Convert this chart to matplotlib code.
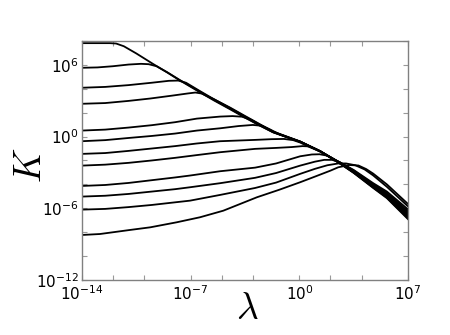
import numpy as np
import matplotlib
matplotlib.use("Agg")
import matplotlib.pyplot as plt
from matplotlib.ticker import FixedLocator, FuncFormatter, NullFormatter

# Curves, stored as log10(lambda) and log10(K),
# from the highest plateau (k0) down to the lowest (k11).
k0_lx = [-14, -12.2, -11.8, -11.3, -10.5, -9.43, -8.5, -7.69, -6.4, -5.5, -4.46, -3.5, -2.53, -1.69, -0.6, 0.05, 1.34, 2.52, 3.5, 4.75, 5.63, 7.0]
k0_ly = [7.81, 7.81, 7.78, 7.55, 6.95, 6.08, 5.35, 4.69, 3.7, 3.02, 2.28, 1.58, 0.9, 0.35, -0.15, -0.45, -1.25, -2.18, -3.05, -4.3, -5.15, -6.92]

k1_lx = [-14, -13, -12, -11, -10.2, -9.7, -9.2, -8.5, -7.69, -6.4, -5.5, -4.46, -3.5, -2.53, -1.69, -0.6, 0.05, 1.34, 2.52, 3.5, 4.75, 5.63, 7.0]
k1_ly = [5.75, 5.78, 5.88, 6.02, 6.08, 6.05, 5.88, 5.37, 4.72, 3.75, 3.07, 2.33, 1.62, 0.92, 0.36, -0.14, -0.44, -1.24, -2.17, -3.02, -4.26, -5.1, -6.85]

k2_lx = [-14, -12.5, -11, -9.5, -8.4, -7.8, -7.3, -6.4, -5.5, -4.46, -3.5, -2.53, -1.69, -0.6, 0.05, 1.34, 2.52, 3.5, 4.75, 5.63, 7.0]
k2_ly = [4.08, 4.15, 4.3, 4.5, 4.66, 4.68, 4.5, 3.8, 3.12, 2.38, 1.67, 0.97, 0.39, -0.12, -0.43, -1.23, -2.16, -3.0, -4.22, -5.05, -6.78]

k3_lx = [-14, -12.5, -11, -9.6, -8.2, -7.2, -6.7, -6.3, -5.5, -4.46, -3.5, -2.53, -1.69, -0.6, 0.05, 1.34, 2.52, 3.5, 4.75, 5.63, 7.0]
k3_ly = [2.74, 2.8, 2.98, 3.18, 3.42, 3.6, 3.68, 3.6, 3.12, 2.42, 1.72, 1.02, 0.42, -0.1, -0.41, -1.22, -2.15, -2.97, -4.18, -5.0, -6.7]

k4_lx = [-14, -12.5, -11, -9.5, -8, -6.6, -5.1, -4.3, -3.7, -3.1, -2.53, -1.69, -0.6, 0.05, 1.34, 2.52, 3.5, 4.75, 5.63, 7.0]
k4_ly = [0.5, 0.58, 0.75, 0.95, 1.2, 1.5, 1.67, 1.71, 1.66, 1.4, 0.97, 0.38, -0.13, -0.42, -1.22, -2.14, -2.95, -4.14, -4.95, -6.62]

k5_lx = [-14, -12.5, -11, -9.5, -8, -6.6, -5.1, -3.9, -3.0, -2.4, -1.9, -1.3, -0.6, 0.05, 1.34, 2.52, 3.5, 4.75, 5.63, 7.0]
k5_ly = [-0.39, -0.3, -0.12, 0.05, 0.25, 0.5, 0.69, 0.88, 0.97, 0.9, 0.6, 0.2, -0.14, -0.43, -1.23, -2.13, -2.93, -4.1, -4.9, -6.55]

k6_lx = [-14, -12.5, -11, -9.5, -8, -6.6, -5.1, -2.85, -1.8, -1.0, -0.4, 0.05, 0.6, 1.34, 2.52, 3.5, 4.75, 5.63, 7.0]
k6_ly = [-1.45, -1.38, -1.2, -1.0, -0.8, -0.58, -0.39, -0.28, -0.22, -0.2, -0.3, -0.5, -0.85, -1.25, -2.12, -2.9, -4.06, -4.85, -6.45]

k7_lx = [-14, -12.5, -11, -9.5, -8, -6.6, -5.1, -2.85, -1.5, -0.5, 0.2, 0.6, 1.0, 1.34, 2.52, 3.5, 4.75, 5.63, 7.0]
k7_ly = [-2.43, -2.35, -2.2, -2.0, -1.78, -1.55, -1.31, -1.03, -0.95, -0.88, -0.8, -0.82, -1.02, -1.24, -2.1, -2.88, -4.02, -4.8, -6.35]

k8_lx = [-14, -12.5, -11, -9.5, -8, -7.04, -5.1, -2.85, -1.5, 0.05, 0.8, 1.3, 1.8, 2.3, 2.6, 3.5, 4.75, 5.63, 7.0]
k8_ly = [-4.13, -4.05, -3.88, -3.65, -3.42, -3.26, -2.9, -2.6, -2.25, -1.65, -1.5, -1.48, -1.6, -1.97, -2.15, -2.85, -3.98, -4.72, -6.25]

k9_lx = [-14, -12.5, -11, -9.5, -8, -7.04, -5.1, -2.85, -1.5, 0.05, 1.0, 1.6, 2.1, 2.6, 3.5, 4.75, 5.63, 7.0]
k9_ly = [-5.02, -4.95, -4.8, -4.6, -4.4, -4.24, -3.9, -3.45, -3.05, -2.43, -2.1, -1.95, -1.95, -2.15, -2.8, -3.9, -4.6, -6.1]

k10_lx = [-14, -12.5, -11, -9.5, -8, -7.04, -5.1, -2.85, -1.5, 0.05, 1.0, 1.8, 2.5, 3.0, 3.6, 4.2, 4.75, 5.63, 7.0]
k10_ly = [-6.11, -6.05, -5.9, -5.72, -5.5, -5.36, -4.88, -4.3, -3.85, -3.12, -2.7, -2.4, -2.25, -2.25, -2.4, -2.75, -3.25, -4.2, -5.85]

k11_lx = [-14, -12.84, -10.9, -9.6, -7.9, -6.4, -4.9, -2.74, -1.3, 0.05, 1.0, 2.0, 2.5, 3.2, 3.8, 4.3, 4.75, 5.63, 7.0]
k11_ly = [-8.23, -8.15, -7.81, -7.59, -7.17, -6.75, -6.2, -5.08, -4.45, -3.82, -3.35, -2.85, -2.57, -2.38, -2.42, -2.72, -3.1, -4.0, -5.65]

curves = [
    (k0_lx, k0_ly), (k1_lx, k1_ly), (k2_lx, k2_ly), (k3_lx, k3_ly),
    (k4_lx, k4_ly), (k5_lx, k5_ly), (k6_lx, k6_ly), (k7_lx, k7_ly),
    (k8_lx, k8_ly), (k9_lx, k9_ly), (k10_lx, k10_ly), (k11_lx, k11_ly),
]

# tick exponents
x_major = [-14, -7, 0, 7]
x_minor = [-12, -10, -5, -3, 2, 4]
y_major = [-12, -6, 0, 6]
y_minor = [-10, -8, -4, -2, 2, 4, 8]

fig = plt.figure(figsize=(4.5, 3.35), dpi=100)
ax = fig.add_axes([0.182, 0.164, 0.725, 0.714])

for lx, ly in curves:
    ax.plot(10.0 ** np.array(lx), 10.0 ** np.array(ly), color='black', lw=1.3)

ax.set_xscale('log')
ax.set_yscale('log')
ax.set_xlim(1e-14, 1e7)
ax.set_ylim(1e-12, 1e8)

ax.xaxis.set_major_locator(FixedLocator([10.0 ** e for e in x_major]))
ax.xaxis.set_minor_locator(FixedLocator([10.0 ** e for e in x_minor]))
ax.yaxis.set_major_locator(FixedLocator([10.0 ** e for e in y_major]))
ax.yaxis.set_minor_locator(FixedLocator([10.0 ** e for e in y_minor]))

fmt = FuncFormatter(lambda v, pos: r'$10^{%d}$' % round(np.log10(v)))
ax.xaxis.set_major_formatter(fmt)
ax.yaxis.set_major_formatter(fmt)
ax.xaxis.set_minor_formatter(NullFormatter())
ax.yaxis.set_minor_formatter(NullFormatter())

for s in ax.spines.values():
    s.set_color('#808080')
    s.set_linewidth(1.0)
ax.tick_params(which='both', direction='in', top=True, right=True,
               length=3.5, width=0.8, color='#999999', labelsize=11)
ax.tick_params(axis='x', pad=3)
ax.tick_params(axis='y', pad=2)

ax.set_xlabel(r'$\lambda$', fontsize=27, math_fontfamily='cm')
ax.set_ylabel(r'$K$', fontsize=27, math_fontfamily='cm')
ax.xaxis.set_label_coords(0.506, -0.045)
ax.yaxis.set_label_coords(-0.10, 0.48)

fig.savefig('out.png', dpi=100)
